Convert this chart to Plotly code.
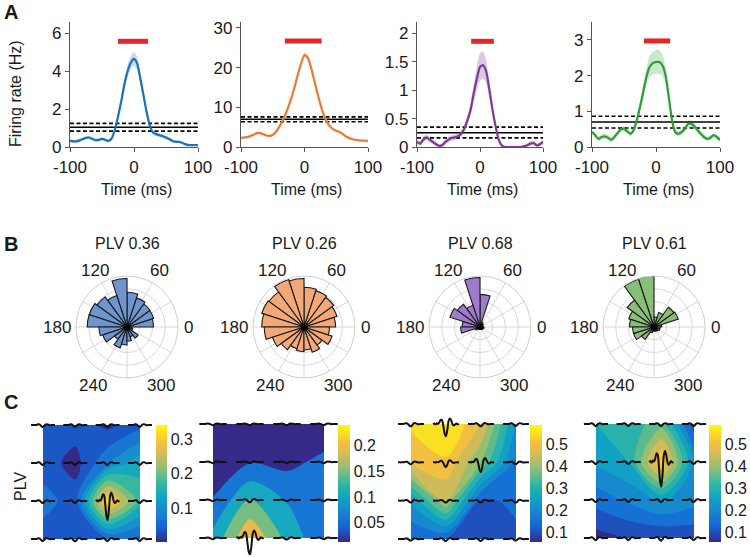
import math
import plotly.graph_objects as go

W, H = 750, 557
OFF = 0  # body margin is removed by the post script, so paper pixels == screen pixels
FONT = "Arial, Liberation Sans, sans-serif"

# ---------------- Panel A data ----------------
time_ms = [-100, -95, -90, -85, -80, -75, -70, -65, -60, -55, -50, -45, -40, -35, -30, -25, -20, -15, -10, -5, 0,
           5, 10, 15, 20, 25, 30, 35, 40, 45, 50, 55, 60, 65, 70, 75, 80, 85, 90, 95, 100]
rate_blue = [0.32, 0.30, 0.30, 0.35, 0.42, 0.48, 0.50, 0.42, 0.36, 0.38, 0.43, 0.38, 0.32, 0.45, 0.90, 1.60, 2.40,
             3.30, 4.00, 4.45, 4.65, 4.40, 3.60, 2.70, 1.80, 1.10, 0.75, 0.68, 0.62, 0.57, 0.50, 0.42, 0.32, 0.28,
             0.27, 0.22, 0.15, 0.10, 0.10, 0.10, 0.10]
sem_blue = [0.08, 0.08, 0.08, 0.08, 0.08, 0.08, 0.08, 0.08, 0.08, 0.08, 0.08, 0.08, 0.08, 0.09, 0.12, 0.18, 0.22,
            0.28, 0.32, 0.35, 0.36, 0.34, 0.30, 0.25, 0.20, 0.15, 0.12, 0.10, 0.10, 0.09, 0.09, 0.08, 0.08, 0.07,
            0.06, 0.05, 0.05, 0.04, 0.04, 0.04, 0.04]
rate_orange = [2.3, 2.4, 2.5, 2.8, 3.1, 3.5, 3.5, 3.2, 2.9, 2.8, 3.1, 3.8, 5.0, 6.5, 8.2, 10.3, 12.7, 15.5, 18.5,
               21.2, 23.2, 22.6, 20.2, 17.0, 13.8, 10.8, 8.2, 6.4, 5.2, 4.5, 4.1, 3.8, 3.3, 2.7, 2.3, 2.0, 1.8,
               1.7, 1.6, 1.6, 1.5]
sem_orange = [0.25, 0.25, 0.25, 0.25, 0.25, 0.25, 0.25, 0.25, 0.25, 0.25, 0.25, 0.25, 0.28, 0.3, 0.35, 0.4, 0.5,
              0.55, 0.6, 0.65, 0.7, 0.65, 0.6, 0.5, 0.45, 0.4, 0.35, 0.3, 0.3, 0.3, 0.28, 0.26, 0.25, 0.25, 0.22,
              0.2, 0.2, 0.2, 0.2, 0.2, 0.2]
rate_purple = [0.09, 0.06, 0.13, 0.17, 0.13, 0.09, 0.05, 0.02, 0.03, 0.09, 0.13, 0.16, 0.17, 0.19, 0.23, 0.32,
               0.47, 0.65, 0.94, 1.20, 1.41, 1.44, 1.32, 1.00, 0.65, 0.35, 0.12, 0.02, 0.00, 0.00, 0.00, 0.00,
               0.00, 0.00, 0.01, 0.03, 0.06, 0.07, 0.03, 0.05, 0.09]
sem_purple = [0.04, 0.04, 0.05, 0.05, 0.04, 0.04, 0.04, 0.03, 0.03, 0.04, 0.05, 0.05, 0.05, 0.05, 0.05, 0.06,
              0.08, 0.11, 0.15, 0.20, 0.24, 0.24, 0.20, 0.15, 0.10, 0.07, 0.05, 0.03, 0.02, 0.02, 0.02, 0.02,
              0.02, 0.02, 0.02, 0.03, 0.04, 0.04, 0.03, 0.04, 0.04]
rate_green = [0.42, 0.33, 0.23, 0.28, 0.30, 0.26, 0.20, 0.28, 0.39, 0.49, 0.51, 0.44, 0.37, 0.47, 0.75, 1.12, 1.54,
              1.96, 2.24, 2.35, 2.38, 2.38, 2.29, 2.00, 1.40, 0.75, 0.42, 0.37, 0.42, 0.51, 0.64, 0.65, 0.58, 0.47,
              0.37, 0.28, 0.23, 0.26, 0.33, 0.28, 0.20]
sem_green = [0.07, 0.07, 0.07, 0.07, 0.07, 0.07, 0.07, 0.07, 0.07, 0.07, 0.07, 0.07, 0.07, 0.08, 0.10, 0.14, 0.20,
             0.25, 0.30, 0.32, 0.33, 0.33, 0.30, 0.25, 0.18, 0.12, 0.08, 0.07, 0.08, 0.09, 0.10, 0.10, 0.09, 0.08,
             0.07, 0.07, 0.06, 0.06, 0.06, 0.06, 0.06]

baseline_mean = [1.04, 7.0, 0.25, 0.70]
baseline_hi = [1.25, 7.6, 0.35, 0.86]
baseline_lo = [0.84, 6.35, 0.16, 0.53]
sig_start = [-25, -31, -14, -19]
sig_end = [22, 27, 22, 22]
sig_level = [5.58, 26.7, 1.86, 2.97]
ymax_A = [6.6, 31.5, 2.2, 3.5]
yticks_A = [[0, 2, 4, 6], [0, 10, 20, 30], [0, 0.5, 1, 1.5, 2], [0, 1, 2, 3]]
yticktext_A = [["0", "2", "4", "6"], ["0", "10", "20", "30"], ["0", "0.5", "1", "1.5", "2"], ["0", "1", "2", "3"]]
xticks_A = [-100, 0, 100]
xticktext_A = ["-100", "0", "100"]

# ---------------- Panel B data ----------------
plv_values = ["0.36", "0.26", "0.68", "0.61"]
phase_bins = [9, 27, 45, 63, 81, 99, 117, 135, 153, 171, 189, 207, 225, 243, 261, 279, 297, 315, 333, 351]
rose_blue = [0.52, 0.55, 0.56, 0.60, 0.68, 0.95, 0.65, 0.73, 0.78, 0.78, 0.55, 0.50, 0.30, 0.43, 0.35, 0.28,
             0.20, 0.27, 0.12, 0.10]
rose_orange = [0.62, 0.68, 0.72, 0.75, 0.78, 0.95, 0.98, 0.85, 0.87, 0.83, 0.78, 0.65, 0.55, 0.45, 0.48, 0.45,
               0.52, 0.44, 0.58, 0.50]
rose_purple = [0.06, 0.05, 0.08, 0.10, 0.64, 0.97, 0.45, 0.55, 0.62, 0.35, 0.38, 0.10, 0.06, 0.05, 0.05, 0.05,
               0.05, 0.06, 0.07, 0.08]
rose_green = [0.15, 0.50, 0.48, 0.30, 0.20, 1.00, 0.99, 0.65, 0.52, 0.48, 0.42, 0.42, 0.30, 0.12, 0.08, 0.08,
              0.08, 0.10, 0.12, 0.12]
grid_angles = [0, 30, 60, 90, 120, 150, 180, 210, 240, 270, 300, 330]
label_angles = [0, 60, 120, 180, 240, 300]
label_texts = ["0", "60", "120", "180", "240", "300"]

# ---------------- Panel C data (4x4 electrode grid, rows top->bottom) ----------------
plv_map_1 = [[0.055, 0.055, 0.030, 0.060],
             [0.055, 0.025, 0.100, 0.160],
             [0.085, 0.055, 0.330, 0.190],
             [0.055, 0.055, 0.070, 0.060]]
plv_map_2 = [[0.020, 0.020, 0.020, 0.025],
             [0.030, 0.055, 0.045, 0.070],
             [0.060, 0.150, 0.100, 0.080],
             [0.117, 0.235, 0.135, 0.065]]
plv_map_3 = [[0.56, 0.61, 0.50, 0.24],
             [0.51, 0.54, 0.40, 0.18],
             [0.26, 0.45, 0.14, 0.16],
             [0.15, 0.15, 0.12, 0.14]]
plv_map_4 = [[0.30, 0.32, 0.38, 0.12],
             [0.26, 0.30, 0.56, 0.24],
             [0.17, 0.21, 0.26, 0.22],
             [0.08, 0.10, 0.10, 0.11]]
cbar_range = [(0.004, 0.34), (0.013, 0.239), (0.055, 0.586), (0.055, 0.586)]
cbar_ticks = [[0.1, 0.2, 0.3], [0.05, 0.1, 0.15, 0.2], [0.1, 0.2, 0.3, 0.4, 0.5], [0.1, 0.2, 0.3, 0.4, 0.5]]
cbar_ticktext = [["0.1", "0.2", "0.3"], ["0.05", "0.1", "0.15", "0.2"],
                 ["0.1", "0.2", "0.3", "0.4", "0.5"], ["0.1", "0.2", "0.3", "0.4", "0.5"]]
# mean spike waveform template and per-electrode amplitudes
wave_template = [0.0, 0.04, -0.03, 0.06, 0.02, 0.15, 0.35, 0.30, -0.20, -0.80, -1.0, -0.50, 0.25, 0.45,
                 0.30, 0.0, -0.12, -0.05, 0.04, -0.02, 0.0]
wave_amp_1 = [[0.05, 0.05, 0.05, 0.05], [0.05, 0.05, 0.05, 0.05], [0.05, 0.05, 0.50, 0.05], [0.05, 0.06, 0.05, 0.05]]
wave_amp_2 = [[0.03, 0.03, 0.03, 0.03], [0.03, 0.03, 0.03, 0.03], [0.03, 0.06, 0.03, 0.03], [0.03, 0.44, 0.04, 0.03]]
wave_amp_3 = [[0.06, 0.32, 0.06, 0.05], [0.05, 0.12, 0.25, 0.05], [0.05, 0.05, 0.05, 0.05], [0.04, 0.05, 0.05, 0.04]]
wave_amp_4 = [[0.05, 0.05, 0.05, 0.05], [0.05, 0.05, 0.65, 0.05], [0.05, 0.05, 0.05, 0.05], [0.05, 0.05, 0.07, 0.05]]

# ---------------- styling ----------------
line_colors = ["#1a72bb", "#ec7a30", "#7e3a98", "#2e9e3a"]
band_colors = ["rgba(26,114,187,0.25)", "rgba(236,122,48,0.25)", "rgba(126,58,152,0.28)", "rgba(46,158,58,0.25)"]
rose_colors = ["#6f95cf", "#f2a877", "#a07acc", "#88be77"]
PARULA_KEYS = [(0.0, (53, 42, 135)), (0.127, (20, 100, 215)), (0.254, (25, 132, 208)), (0.381, (15, 165, 196)),
               (0.508, (56, 185, 158)), (0.635, (146, 191, 115)), (0.762, (217, 186, 86)),
               (0.857, (250, 192, 58)), (0.889, (250, 206, 46)), (1.0, (249, 251, 14))]
parula = [[p, "rgb(%d,%d,%d)" % c] for p, c in PARULA_KEYS]


def parula_at(f):
    f = min(max(f, 0.0), 1.0)
    for (p0, c0), (p1, c1) in zip(PARULA_KEYS[:-1], PARULA_KEYS[1:]):
        if f <= p1:
            t = (f - p0) / (p1 - p0)
            return "rgb(%d,%d,%d)" % tuple(round(a + (b - a) * t) for a, b in zip(c0, c1))
    return "rgb(%d,%d,%d)" % PARULA_KEYS[-1][1]


AXC = "#555555"
TXT = "#1a1a1a"
TICK_SIZE = 17
CBAR_SIZE = 16
TEXT_SIZE = 16

rates = [rate_blue, rate_orange, rate_purple, rate_green]
sems = [sem_blue, sem_orange, sem_purple, sem_green]
roses = [rose_blue, rose_orange, rose_purple, rose_green]
maps = [plv_map_1, plv_map_2, plv_map_3, plv_map_4]
amps = [wave_amp_1, wave_amp_2, wave_amp_3, wave_amp_4]

# pixel layout (reference image pixels)
A_x = [(70, 198), (241, 368), (417, 543), (592, 720)]
A_top, A_bot = 22, 147
B_cx = [127, 304, 480, 654]
B_cy, B_R = 327, 51
B_label_dist = [61, 65, 65, 70, 68, 68]
C_rect = [(43, 140, 425, 539), (213, 324, 424, 538), (411, 516, 424, 539), (596, 694, 424, 538)]
C_cbar = [(156, 167), (338, 350), (530, 542), (709, 721)]
C_cbar_y = (425, 542)
contour_levels = [(0.038, 0.0335, 9), (0.058, 0.045, 4), (0.1, 0.05, 10), (0.1, 0.05, 10)]
CX_RANGE = (-0.42, 3.42)
CY_RANGE = (-0.45, 3.35)

fig = go.Figure()
layout = dict(width=W, height=H, margin=dict(l=0, r=0, t=0, b=0, autoexpand=False), paper_bgcolor="white",
              plot_bgcolor="white", showlegend=False, font=dict(family=FONT, size=TEXT_SIZE, color=TXT))
annotations = []


def px_x(p):
    return (p - OFF) / W


def px_y(p):
    return 1 - (p - OFF) / H


# ---------- Panel A ----------
for k in range(4):
    xa = "x" if k == 0 else f"x{k + 1}"
    ya = "y" if k == 0 else f"y{k + 1}"
    upper = [r + s for r, s in zip(rates[k], sems[k])]
    lower = [max(r - s, 0) for r, s in zip(rates[k], sems[k])]
    fig.add_trace(go.Scatter(x=time_ms + time_ms[::-1], y=upper + lower[::-1], fill="toself",
                             fillcolor=band_colors[k], line=dict(width=0, shape="spline", smoothing=0.6),
                             mode="lines", hoverinfo="skip", xaxis=xa, yaxis=ya))
    for val, dash in [(baseline_hi[k], "4px,2.5px"), (baseline_lo[k], "4px,2.5px"), (baseline_mean[k], "solid")]:
        fig.add_trace(go.Scatter(x=[time_ms[0], time_ms[-1]], y=[val, val], mode="lines",
                                 line=dict(color="black", width=1.6, dash=dash), xaxis=xa, yaxis=ya))
    fig.add_trace(go.Scatter(x=time_ms, y=rates[k], mode="lines",
                             line=dict(color=line_colors[k], width=2.2, shape="spline", smoothing=0.6),
                             xaxis=xa, yaxis=ya))
    fig.add_trace(go.Scatter(x=[sig_start[k], sig_end[k]], y=[sig_level[k], sig_level[k]], mode="lines",
                             line=dict(color="#e5262b", width=5), xaxis=xa, yaxis=ya))
    x0, x1 = A_x[k]
    axname = "xaxis" if k == 0 else f"xaxis{k + 1}"
    ayname = "yaxis" if k == 0 else f"yaxis{k + 1}"
    common = dict(showline=True, linecolor=AXC, linewidth=1.2, ticks="outside", ticklen=4, tickcolor=AXC,
                  showgrid=False, zeroline=False, automargin=False,
                  tickfont=dict(size=TICK_SIZE, color=TXT, family=FONT))
    layout[axname] = dict(domain=[px_x(x0), px_x(x1)], range=[-100, 100], anchor=ya,
                          tickvals=xticks_A, ticktext=xticktext_A, **common)
    layout[ayname] = dict(domain=[px_y(A_bot), px_y(A_top)], range=[0, ymax_A[k]], anchor=xa,
                          tickvals=yticks_A[k], ticktext=yticktext_A[k], **common)
    annotations.append(dict(text="Time (ms)", x=px_x((x0 + x1) / 2 + 2), y=px_y(190), xref="paper", yref="paper",
                            showarrow=False, xanchor="center", yanchor="middle", font=dict(size=TEXT_SIZE)))

annotations.append(dict(text="Firing rate (Hz)", x=px_x(16), y=px_y(94), xref="paper", yref="paper",
                        showarrow=False, textangle=-90, xanchor="center", yanchor="middle",
                        font=dict(size=TEXT_SIZE)))

# ---------- Panel B ----------
for k in range(4):
    pname = "polar" if k == 0 else f"polar{k + 1}"
    fig.add_trace(go.Barpolar(r=roses[k], theta=phase_bins, width=[18] * len(phase_bins),
                              marker=dict(color=rose_colors[k], line=dict(color="#1a1a1a", width=1.1)),
                              subplot=pname))
    fig.add_trace(go.Scatterpolar(r=[0], theta=[0], mode="markers", marker=dict(color="black", size=6),
                                  subplot=pname))
    cx = B_cx[k]
    layout[pname] = dict(
        domain=dict(x=[px_x(cx - B_R), px_x(cx + B_R)], y=[px_y(B_cy + B_R), px_y(B_cy - B_R)]),
        bgcolor="white", bargap=0,
        angularaxis=dict(rotation=0, direction="counterclockwise", tickvals=grid_angles,
                         showticklabels=False, showline=True, linecolor="#cfcfcf", linewidth=1,
                         gridcolor="#d8d8d8", ticks=""),
        radialaxis=dict(range=[0, 1], tickvals=[0.25, 0.5, 0.75, 1.0], showticklabels=False, ticks="",
                        gridcolor="#d8d8d8", showline=False))
    annotations.append(dict(text=f"PLV {plv_values[k]}", x=px_x(cx), y=px_y(243), xref="paper", yref="paper",
                            showarrow=False, xanchor="center", yanchor="middle", font=dict(size=TEXT_SIZE)))
    for ang, txt, d in zip(label_angles, label_texts, B_label_dist):
        lx = cx + d * math.cos(math.radians(ang))
        ly = B_cy - d * math.sin(math.radians(ang))
        annotations.append(dict(text=txt, x=px_x(lx), y=px_y(ly), xref="paper", yref="paper", showarrow=False,
                                xanchor="center", yanchor="middle",
                                font=dict(size=TICK_SIZE, color=TXT, family=FONT)))

# ---------- Panel C ----------
grid_x = [0, 1, 2, 3]
grid_y = [3, 2, 1, 0]
n_t = len(wave_template)
for k in range(4):
    idx = 5 + k
    xa, ya = f"x{idx}", f"y{idx}"
    cmin, cmax = cbar_range[k]
    start, size, nlev = contour_levels[k]
    levels = [start + i * size for i in range(nlev)]
    # MATLAB-style band colouring: each filled band takes the colour of its lower level
    band_cols = [parula_at(0.0)] + [parula_at((lv - cmin) / (cmax - cmin)) for lv in levels]
    stepped = [[i / nlev, c] for i, c in enumerate(band_cols)]
    fig.add_trace(go.Contour(z=maps[k], x=grid_x, y=grid_y, colorscale=stepped, showscale=False,
                             autocontour=False,
                             contours=dict(start=start, end=levels[-1] + size * 0.01, size=size,
                                           coloring="fill", showlines=False),
                             line=dict(width=0, smoothing=0.9), xaxis=xa, yaxis=ya, hoverinfo="skip"))
    cb0, cb1 = C_cbar[k]
    fig.add_trace(go.Heatmap(z=[[cmin, cmax], [cmin, cmax]], x=[20, 21], y=[20, 21], colorscale=parula,
                             zmin=cmin, zmax=cmax, xaxis=xa, yaxis=ya, hoverinfo="skip",
                             colorbar=dict(x=px_x(cb0), xanchor="left", xpad=0, ypad=0,
                                           y=px_y(C_cbar_y[0]), yanchor="top",
                                           len=(C_cbar_y[1] - C_cbar_y[0]) / H, lenmode="fraction",
                                           thickness=cb1 - cb0, thicknessmode="pixels", outlinewidth=0,
                                           ticks="", tickvals=cbar_ticks[k], ticktext=cbar_ticktext[k],
                                           tickfont=dict(size=CBAR_SIZE, color=TXT, family=FONT))))
    wx, wy = [], []
    for r in range(4):
        for c in range(4):
            a = amps[k][r][c]
            for i, v in enumerate(wave_template):
                wx.append(grid_x[c] + 0.37 * (2 * i / (n_t - 1) - 1))
                wy.append(grid_y[r] + a * v)
            wx.append(None)
            wy.append(None)
    fig.add_trace(go.Scatter(x=wx, y=wy, mode="lines", line=dict(color="#111111", width=2, shape="spline",
                                                                  smoothing=0.7),
                             xaxis=xa, yaxis=ya, hoverinfo="skip", connectgaps=False))
    hx0, hx1, hy0, hy1 = C_rect[k]
    ux = (hx1 - hx0) / 3.0
    uy = (hy1 - hy0) / 3.0
    dx0 = hx0 + CX_RANGE[0] * ux
    dx1 = hx1 + (CX_RANGE[1] - 3) * ux
    dy_top = hy0 - (CY_RANGE[1] - 3) * uy
    dy_bot = hy1 - CY_RANGE[0] * uy
    layout[f"xaxis{idx}"] = dict(domain=[px_x(dx0), px_x(dx1)], range=list(CX_RANGE), anchor=ya,
                                 visible=False, showgrid=False, zeroline=False, automargin=False)
    layout[f"yaxis{idx}"] = dict(domain=[max(px_y(dy_bot), 0), px_y(dy_top)], range=list(CY_RANGE), anchor=xa,
                                 visible=False, showgrid=False, zeroline=False, automargin=False)

annotations.append(dict(text="PLV", x=px_x(20), y=px_y(487), xref="paper", yref="paper", showarrow=False,
                        textangle=-90, xanchor="center", yanchor="middle", font=dict(size=TEXT_SIZE)))

for letter, yy in [("A", 12), ("B", 244), ("C", 402)]:
    annotations.append(dict(text=f"<b>{letter}</b>", x=px_x(2), y=px_y(yy), xref="paper", yref="paper",
                            showarrow=False, xanchor="left", yanchor="middle", font=dict(size=20)))

layout["annotations"] = annotations
fig.update_layout(**layout)
fig.write_html("out.html", config={"displayModeBar": False},
               post_script="document.body.style.margin='0px';document.documentElement.style.margin='0px';")
